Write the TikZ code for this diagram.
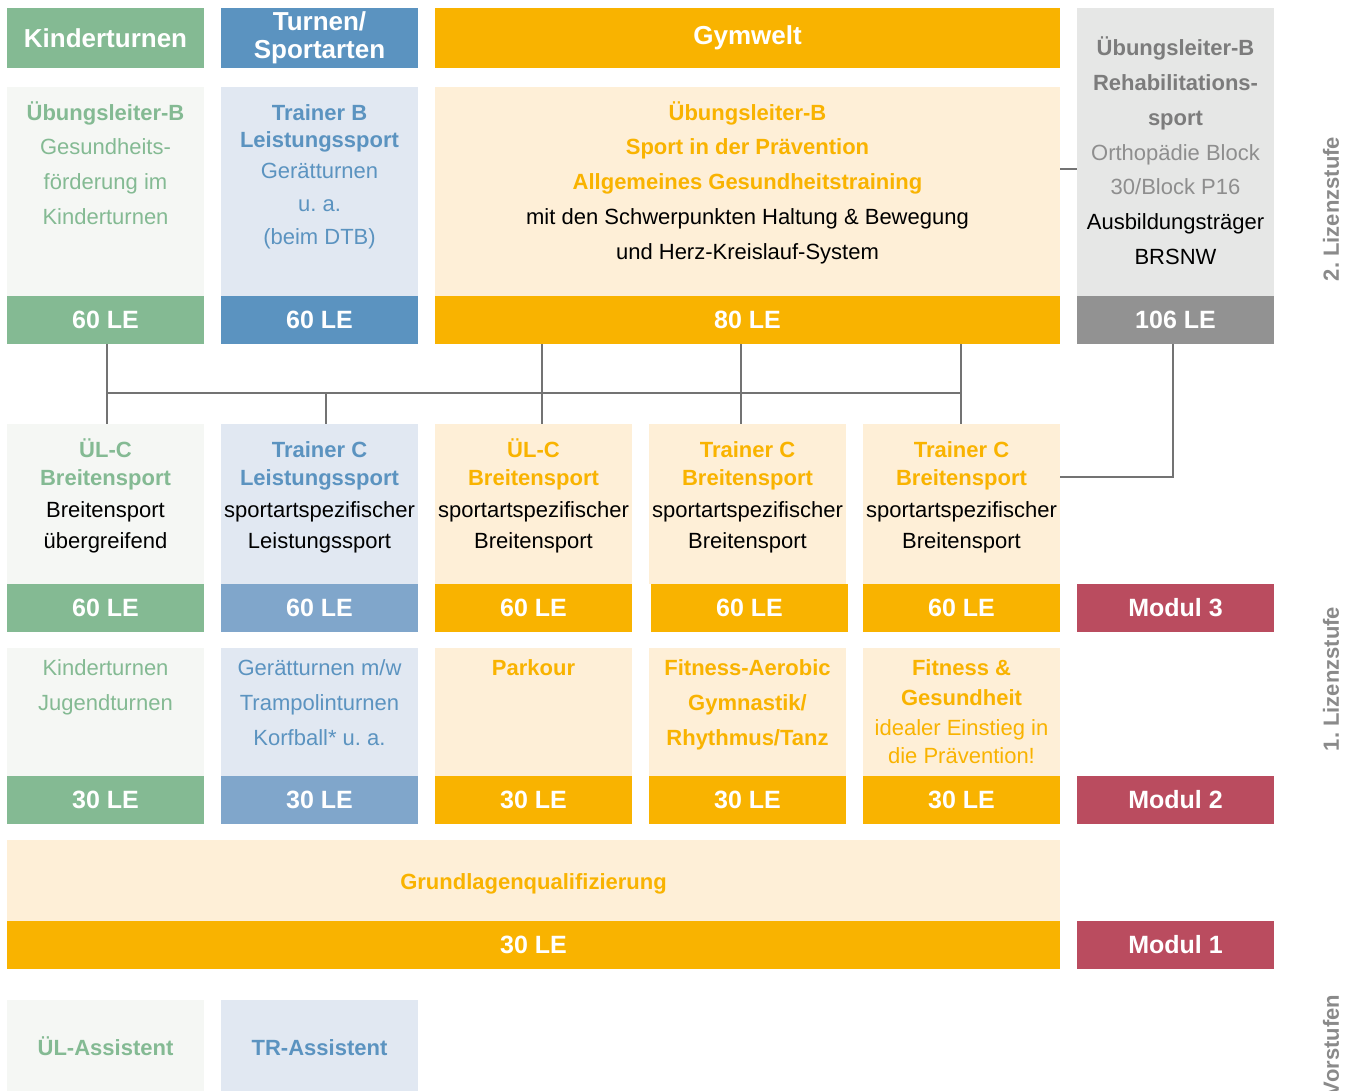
\documentclass[tikz,border=0pt]{standalone}
\usepackage{fontspec}
\setmainfont{Liberation Sans}
\frenchspacing
\definecolor{kgreen}{HTML}{84BA93}
\definecolor{kgreenbg}{HTML}{F5F7F4}
\definecolor{tblue}{HTML}{5B93C0}
\definecolor{tbluebar}{HTML}{80A6CB}
\definecolor{tbluebg}{HTML}{E1E8F2}
\definecolor{gold}{HTML}{F9B300}
\definecolor{goldbg}{HTML}{FEEFD7}
\definecolor{rgray}{HTML}{E6E7E6}
\definecolor{rgraybar}{HTML}{929292}
\definecolor{rgraytxt}{HTML}{7C7C7C}
\definecolor{rgraylt}{HTML}{8E8E8E}
\definecolor{modred}{HTML}{BA4C5F}
\definecolor{linegray}{HTML}{737373}
\definecolor{sidegray}{HTML}{8A8A8A}
\newcommand\bx[7]{%
  \pgfmathsetmacro\bw{#4-#2}\pgfmathsetmacro\bh{#5-#3}%
  \pgfmathsetmacro\cx{(#2+#4)/2}\pgfmathsetmacro\cy{(#3+#5)/2}%
  \node[#6, minimum width=\bw pt, minimum height=\bh pt] (#1) at (\cx,\cy) {#7};}
\begin{document}
\frenchspacing
\begin{tikzpicture}[x=1pt,y=-1pt,
  box/.style={rectangle, inner sep=0, outer sep=0, draw=none},
  bar/.style={box, text=white, font=\fontsize{25}{30}\selectfont\bfseries},
  hd/.style={box, text=white, font=\fontsize{26}{28}\selectfont\bfseries, align=center},
  tb/.style={inner sep=0, anchor=base, font=\fontsize{22}{26}\selectfont\bfseries},
  tr/.style={inner sep=0, anchor=base, font=\fontsize{22}{26}\selectfont},
  side/.style={inner sep=0, rotate=90, text=sidegray, font=\fontsize{22}{26}\selectfont\bfseries},
  conn/.style={draw=linegray, line width=2.5pt},
]
\fill[white] (0,0) rectangle (1351,1091);
\useasboundingbox (0,0) rectangle (1351,1091);

% headers
\bx{h1}{7}{8}{204}{68}{hd, fill=kgreen}{Kinderturnen}
\bx{h2}{221}{8}{418}{68}{hd, fill=tblue}{Turnen/\\Sportarten}
\bx{h3}{435}{8}{1060}{68}{hd, fill=gold}{Gymwelt}

% row B
\bx{b1}{7}{87}{204}{296}{box, fill=kgreenbg}{}
\bx{b2}{221}{87}{418}{296}{box, fill=tbluebg}{}
\bx{b3}{435}{87}{1060}{296}{box, fill=goldbg}{}
\bx{b4}{1077}{8}{1274}{296}{box, fill=rgray}{}
\bx{le1}{7}{296}{204}{344}{bar, fill=kgreen}{60 LE}
\bx{le2}{221}{296}{418}{344}{bar, fill=tblue}{60 LE}
\bx{le3}{435}{296}{1060}{344}{bar, fill=gold}{80 LE}
\bx{le4}{1077}{296}{1274}{344}{bar, fill=rgraybar}{106 LE}

\node[tb, text=kgreen] (b1a) at (105.5,121) {Übungsleiter-B};
\node[tr, text=kgreen] (b1b) at (105.5,155) {Gesundheits-};
\node[tr, text=kgreen] (b1c) at (105.5,190) {förderung im};
\node[tr, text=kgreen] (b1d) at (105.5,225) {Kinderturnen};

\node[tb, text=tblue] (b2a) at (319.5,121) {Trainer B};
\node[tb, text=tblue] (b2b) at (319.5,148) {Leistungssport};
\node[tr, text=tblue] (b2c) at (319.5,179) {Gerätturnen};
\node[tr, text=tblue] (b2d) at (319.5,212) {u. a.};
\node[tr, text=tblue] (b2e) at (319.5,244) {(beim DTB)};

\node[tb, text=gold] (b3a) at (747.5,121) {Übungsleiter-B};
\node[tb, text=gold] (b3b) at (747.5,155) {Sport in der Prävention};
\node[tb, text=gold] (b3c) at (747.5,190) {Allgemeines Gesundheitstraining};
\node[tr, text=black] (b3d) at (747.5,225) {mit den Schwerpunkten Haltung \& Bewegung};
\node[tr, text=black] (b3e) at (747.5,259) {und Herz-Kreislauf-System};

\node[tb, text=rgraytxt] (b4a) at (1175.5,56) {Übungsleiter-B};
\node[tb, text=rgraytxt] (b4b) at (1175.5,91) {Rehabilitations-};
\node[tb, text=rgraytxt] (b4c) at (1175.5,126) {sport};
\node[tr, text=rgraylt] (b4d) at (1175.5,161) {Orthopädie Block};
\node[tr, text=rgraylt] (b4e) at (1175.5,195) {30/Block P16};
\node[tr, text=black] (b4f) at (1175.5,230) {Ausbildungsträger};
\node[tr, text=black] (b4g) at (1175.5,265) {BRSNW};

% row C
\bx{c1}{7}{424}{204}{584}{box, fill=kgreenbg}{}
\bx{c2}{221}{424}{418}{584}{box, fill=tbluebg}{}
\bx{c3}{435}{424}{632}{584}{box, fill=goldbg}{}
\bx{c4}{649}{424}{846}{584}{box, fill=goldbg}{}
\bx{c5}{863}{424}{1060}{584}{box, fill=goldbg}{}
\bx{lc1}{7}{584}{204}{632}{bar, fill=kgreen}{60 LE}
\bx{lc2}{221}{584}{418}{632}{bar, fill=tbluebar}{60 LE}
\bx{lc3}{435}{584}{632}{632}{bar, fill=gold}{60 LE}
\bx{lc4}{651}{584}{848}{632}{bar, fill=gold}{60 LE}
\bx{lc5}{863}{584}{1060}{632}{bar, fill=gold}{60 LE}
\bx{m3}{1077}{584}{1274}{632}{bar, fill=modred}{Modul 3}

\node[tb, text=kgreen] (c1a) at (105.5,457) {ÜL-C};
\node[tb, text=kgreen] (c1b) at (105.5,485) {Breitensport};
\node[tr, text=black] (c1c) at (105.5,517) {Breitensport};
\node[tr, text=black] (c1d) at (105.5,548) {übergreifend};

\node[tb, text=tblue] (c2a) at (319.5,457) {Trainer C};
\node[tb, text=tblue] (c2b) at (319.5,485) {Leistungssport};
\node[tr, text=black] (c2c) at (319.5,517) {sportartspezifischer};
\node[tr, text=black] (c2d) at (319.5,548) {Leistungssport};

\node[tb, text=gold] (c3a) at (533.5,457) {ÜL-C};
\node[tb, text=gold] (c3b) at (533.5,485) {Breitensport};
\node[tr, text=black] (c3c) at (533.5,517) {sportartspezifischer};
\node[tr, text=black] (c3d) at (533.5,548) {Breitensport};

\node[tb, text=gold] (c4a) at (747.5,457) {Trainer C};
\node[tb, text=gold] (c4b) at (747.5,485) {Breitensport};
\node[tr, text=black] (c4c) at (747.5,517) {sportartspezifischer};
\node[tr, text=black] (c4d) at (747.5,548) {Breitensport};

\node[tb, text=gold] (c5a) at (961.5,457) {Trainer C};
\node[tb, text=gold] (c5b) at (961.5,485) {Breitensport};
\node[tr, text=black] (c5c) at (961.5,517) {sportartspezifischer};
\node[tr, text=black] (c5d) at (961.5,548) {Breitensport};

% row D
\bx{d1}{7}{648}{204}{776}{box, fill=kgreenbg}{}
\bx{d2}{221}{648}{418}{776}{box, fill=tbluebg}{}
\bx{d3}{435}{648}{632}{776}{box, fill=goldbg}{}
\bx{d4}{649}{648}{846}{776}{box, fill=goldbg}{}
\bx{d5}{863}{648}{1060}{776}{box, fill=goldbg}{}
\bx{ld1}{7}{776}{204}{824}{bar, fill=kgreen}{30 LE}
\bx{ld2}{221}{776}{418}{824}{bar, fill=tbluebar}{30 LE}
\bx{ld3}{435}{776}{632}{824}{bar, fill=gold}{30 LE}
\bx{ld4}{649}{776}{846}{824}{bar, fill=gold}{30 LE}
\bx{ld5}{863}{776}{1060}{824}{bar, fill=gold}{30 LE}
\bx{m2}{1077}{776}{1274}{824}{bar, fill=modred}{Modul 2}

\node[tr, text=kgreen] (d1a) at (105.5,675) {Kinderturnen};
\node[tr, text=kgreen] (d1b) at (105.5,710) {Jugendturnen};

\node[tr, text=tblue] (d2a) at (319.5,675) {Gerätturnen m/w};
\node[tr, text=tblue] (d2b) at (319.5,710) {Trampolinturnen};
\node[tr, text=tblue] (d2c) at (319.5,745) {Korfball* u. a.};

\node[tb, text=gold] (d3a) at (533.5,675) {Parkour};

\node[tb, text=gold] (d4a) at (747.5,675) {Fitness-Aerobic};
\node[tb, text=gold] (d4b) at (747.5,710) {Gymnastik/};
\node[tb, text=gold] (d4c) at (747.5,745) {Rhythmus/Tanz};

\node[tb, text=gold] (d5a) at (961.5,675) {Fitness \&};
\node[tb, text=gold] (d5b) at (961.5,705) {Gesundheit};
\node[tr, text=gold] (d5c) at (961.5,735) {idealer Einstieg in};
\node[tr, text=gold] (d5d) at (961.5,763) {die Prävention!};

% Grundlagen
\bx{g}{7}{840}{1060}{921}{box, fill=goldbg}{}
\bx{lg}{7}{921}{1060}{969}{bar, fill=gold}{30 LE}
\bx{m1}{1077}{921}{1274}{969}{bar, fill=modred}{Modul 1}
\node[tb, text=gold] (ga) at (533.5,889) {Grundlagenqualifizierung};

% Vorstufen
\bx{v1}{7}{1000}{204}{1091}{box, fill=kgreenbg}{}
\bx{v2}{221}{1000}{418}{1091}{box, fill=tbluebg}{}
\node[tb, text=kgreen] (v1a) at (105.5,1055) {ÜL-Assistent};
\node[tb, text=tblue] (v2a) at (319.5,1055) {TR-Assistent};

% side labels
\node[side] (s2) at (1331,209) {2. Lizenzstufe};
\node[side] (s1) at (1331,679) {1. Lizenzstufe};
\node[side] (s0) at (1331,1045.5) {Vorstufen};

% connectors
\coordinate (busL) at (107,393);
\coordinate (busR) at (961,393);
\coordinate (j2) at (326,393);
\coordinate (j3) at (542,393);
\coordinate (j4) at (741,393);
\coordinate (j5) at (961,393);
\coordinate (corner) at (1173,477);
\draw[conn] (le1.south -| busL) -- (c1.north -| busL);
\draw[conn] (busL) -- (busR);
\draw[conn] (j2) -- (c2.north -| j2);
\draw[conn] (le3.south -| j3) -- (c3.north -| j3);
\draw[conn] (le3.south -| j4) -- (c4.north -| j4);
\draw[conn] (le3.south -| j5) -- (c5.north -| j5);
\draw[conn] (b3.east |- 0,169) -- (b4.west |- 0,169);
\draw[conn] (le4.south -| corner) -- (corner) -- (c5.east |- corner);
\end{tikzpicture}
\end{document}
